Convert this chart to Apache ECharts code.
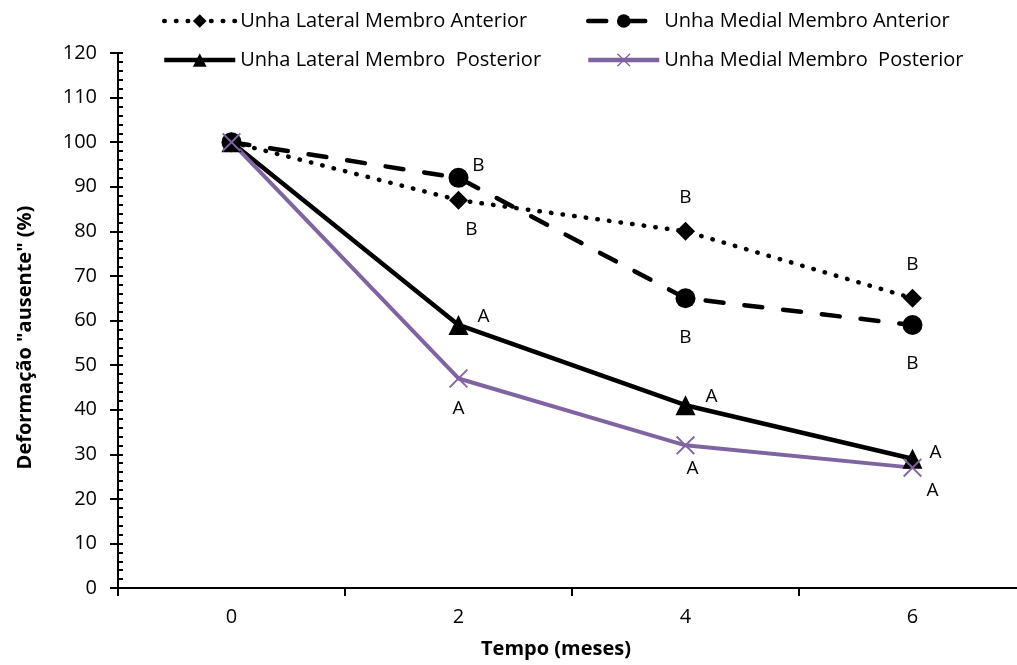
<!DOCTYPE html>
<html>
<head>
<meta charset="utf-8">
<script src="https://cdn.jsdelivr.net/npm/echarts@6/dist/echarts.min.js"></script>
<style>
  html, body { margin: 0; padding: 0; background: #fff; }
  #chart { width: 1017px; height: 665px; }
</style>
</head>
<body>
<div id="chart"></div>
<script>
// months
var categories = ["0", "2", "4", "6"];

var seriesNames = [
  "Unha Lateral Membro Anterior",
  "Unha Medial Membro Anterior",
  "Unha Lateral Membro  Posterior",
  "Unha Medial Membro  Posterior"
];

var lateralAnterior = [100, 87, 80, 65];
var medialAnterior = [100, 92, 65, 59];
var lateralPosterior = [100, 59, 41, 29];
var medialPosterior = [100, 47, 32, 27];

// letters beside the points
var lettersLatAnt = ["", "B", "B", "B"];
var lettersMedAnt = ["", "B", "B", "B"];
var lettersLatPost = ["", "A", "A", "A"];
var lettersMedPost = ["", "A", "A", "A"];

var yTicks = { min: 0, max: 120, step: 10 };

var FONT = "Open Sans";
var PURPLE = "#8064A2";
var crossPath = "path://M0,7L7,0L50,43L93,0L100,7L57,50L100,93L93,100L50,57L7,100L0,93L43,50Z";

// where each letter sits relative to its point
var labelOffsets = [
  [null, [13, 29], [0, -34], [0, -34]],
  [null, [20, -12], [0, 39], [0, 39]],
  [null, [25, -8], [26, -9], [23, -6]],
  [null, [0, 30], [7, 23], [20, 23]]
];

function makeData(values, letters, offs) {
  return values.map(function(v, i) {
    var d = { value: v };
    if (letters[i]) {
      d.label = {
        show: true,
        position: "inside",
        formatter: letters[i],
        offset: offs[i],
        color: "#000",
        fontFamily: FONT,
        fontSize: 19
      };
    }
    return d;
  });
}

var chart = echarts.init(document.getElementById("chart"));

var legendText = { fontFamily: FONT, fontSize: 20, color: "#000" };

chart.setOption({
  backgroundColor: "#ffffff",
  animation: false,
  legend: [
    {
      orient: "vertical",
      left: 157,
      top: 6,
      itemGap: 19,
      itemWidth: 71,
      itemHeight: 17,
      lineStyle: { width: 4.5 },
      textStyle: legendText,
      data: [seriesNames[0], seriesNames[2]]
    },
    {
      orient: "vertical",
      left: 581,
      top: 6,
      itemGap: 19,
      itemWidth: 71,
      itemHeight: 17,
      lineStyle: { width: 4.5 },
      textStyle: legendText,
      data: [seriesNames[1], seriesNames[3]]
    }
  ],
  grid: {
    left: 118,
    width: 908,
    top: 53,
    bottom: 77,
    outerBoundsMode: "none"
  },
  xAxis: {
    type: "category",
    data: categories,
    boundaryGap: true,
    name: "Tempo (meses)",
    nameLocation: "middle",
    nameGap: 51,
    nameTextStyle: {
      fontFamily: FONT,
      fontWeight: "bold",
      fontSize: 20,
      color: "#000",
      padding: [0, 32, 0, 0]
    },
    axisLine: { lineStyle: { color: "#000", width: 2 } },
    axisTick: { show: true, alignWithLabel: false, length: 8, lineStyle: { color: "#000", width: 2 } },
    axisLabel: { margin: 19, fontFamily: FONT, fontSize: 20, color: "#000" },
    splitLine: { show: false }
  },
  yAxis: [
    {
      type: "value",
      min: yTicks.min,
      max: yTicks.max,
      interval: yTicks.step,
      name: "Deformação \"ausente\" (%)",
      nameLocation: "middle",
      nameGap: 83,
      nameTextStyle: {
        fontFamily: FONT,
        fontWeight: "bold",
        fontSize: 20,
        color: "#000",
        padding: [0, 34, 0, 0]
      },
      axisLine: { show: true, lineStyle: { color: "#000", width: 2 } },
      axisTick: { show: true, inside: true, length: 5, lineStyle: { color: "#000", width: 2 } },
      minorTick: { show: true, splitNumber: 5, length: 5, lineStyle: { color: "#000", width: 2 } },
      axisLabel: { margin: 21, fontFamily: FONT, fontSize: 20, color: "#000" },
      splitLine: { show: false }
    },
    {
      type: "value",
      position: "left",
      min: yTicks.min,
      max: yTicks.max,
      interval: yTicks.step,
      axisLine: { show: false },
      axisTick: { show: true, inside: false, length: 8, lineStyle: { color: "#000", width: 2 } },
      axisLabel: { show: false },
      splitLine: { show: false }
    }
  ],
  series: [
    {
      name: seriesNames[0],
      type: "line",
      data: makeData(lateralAnterior, lettersLatAnt, labelOffsets[0]),
      symbol: "diamond",
      symbolSize: 19,
      itemStyle: { color: "#000" },
      lineStyle: { color: "#000", width: 4.5, type: [0.5, 11.2], cap: "round" }
    },
    {
      name: seriesNames[1],
      type: "line",
      data: makeData(medialAnterior, lettersMedAnt, labelOffsets[1]),
      symbol: "circle",
      symbolSize: 20,
      itemStyle: { color: "#000" },
      lineStyle: { color: "#000", width: 4.5, type: [18, 21], cap: "round" }
    },
    {
      name: seriesNames[2],
      type: "line",
      data: makeData(lateralPosterior, lettersLatPost, labelOffsets[2]),
      symbol: "triangle",
      symbolSize: 20,
      itemStyle: { color: "#000" },
      lineStyle: { color: "#000", width: 4.5 }
    },
    {
      name: seriesNames[3],
      type: "line",
      data: makeData(medialPosterior, lettersMedPost, labelOffsets[3]),
      symbol: crossPath,
      symbolSize: 19,
      itemStyle: { color: PURPLE },
      lineStyle: { color: PURPLE, width: 4 }
    }
  ]
});
</script>
</body>
</html>
